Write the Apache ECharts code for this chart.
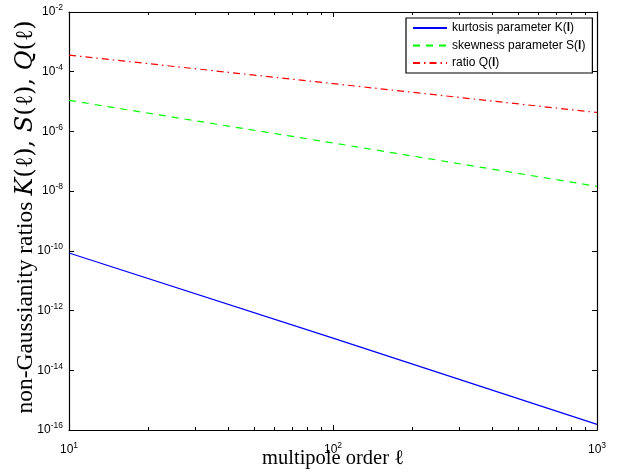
<!DOCTYPE html>
<html>
<head>
<meta charset="utf-8">
<script src="https://cdn.jsdelivr.net/npm/echarts@6/dist/echarts.min.js"></script>
<style>
  html, body { margin: 0; padding: 0; background: #fff; }
  #chart { width: 627px; height: 473px; }
</style>
</head>
<body>
<div id="chart"></div>
<script>
// multipole order ℓ
const ell = [10, 100, 1000];
// kurtosis parameter K(ℓ)
const kurtosis = [8.5e-11, 1.2e-13, 1.55e-16];
// skewness parameter S(ℓ)
const skewness = [1.1e-5, 4.1e-7, 1.45e-8];
// ratio Q(ℓ)
const ratioQ = [3.6e-4, 4.0e-5, 4.3e-6];

// minor tick positions on the ℓ axis
const minorTicksX = [20, 30, 40, 50, 60, 70, 80, 90, 200, 300, 400, 500, 600, 700, 800, 900];

const pairs = (xs, ys) => xs.map((x, i) => [x, ys[i]]);

const sansFont = '"Liberation Sans", Arial, sans-serif';
const serifFont = '"Liberation Serif", "Times New Roman", serif';
const mathFont = '"DejaVu Serif", "Liberation Serif", serif';

const powLabel = v => {
  const e = Math.round(Math.log10(v));
  return '{b|10}{s|' + e + '}';
};
const powRich = {
  b: { fontFamily: sansFont, fontSize: 12, color: '#000' },
  s: { fontFamily: sansFont, fontSize: 8.5, color: '#000', verticalAlign: 'bottom', padding: [0, 0, 8, 0] }
};

const chart = echarts.init(document.getElementById('chart'), null, { renderer: 'canvas' });

const axisLineStyle = { color: '#000', width: 1.2 };

chart.setOption({
  backgroundColor: '#fff',
  animation: false,
  grid: { left: 69, right: 30, top: 12, bottom: 43, containLabel: false, outerBoundsMode: 'none' },
  legend: {
    orient: 'vertical',
    left: 406,
    top: 18,
    padding: [4, 7, 4, 6],
    itemWidth: 34,
    itemHeight: 10,
    itemGap: 5.5,
    backgroundColor: '#fff',
    borderColor: '#000',
    borderWidth: 1.2,
    itemStyle: { opacity: 0 },
    textStyle: {
      fontFamily: sansFont, fontSize: 12, color: '#000',
      rich: { n: { fontFamily: sansFont, fontSize: 12 }, bl: { fontFamily: sansFont, fontSize: 12, fontWeight: 'bold' } }
    },
    formatter: name => {
      const m = name.match(/^(.*)\((l)\)$/);
      return '{n|' + m[1] + '(}{bl|l}{n|)}';
    },
    data: ['kurtosis parameter K(l)', 'skewness parameter S(l)', 'ratio Q(l)']
  },
  xAxis: [
    {
      type: 'log', logBase: 10, min: 10, max: 1000, interval: 1,
      name: 'multipole order ℓ',
      nameLocation: 'middle', nameGap: 18, nameMoveOverlap: false,
      nameTextStyle: { fontFamily: serifFont, fontSize: 20.5, color: '#000' },
      axisLine: { show: true, lineStyle: axisLineStyle },
      axisTick: { show: true, inside: true, length: 5, lineStyle: { color: '#000' } },
      axisLabel: { formatter: powLabel, rich: powRich, margin: 11 },
      splitLine: { show: false }
    },
    {
      type: 'log', logBase: 10, min: 10, max: 1000, interval: 1, position: 'top',
      axisLine: { show: true, lineStyle: axisLineStyle },
      axisTick: { show: true, inside: true, length: 5, lineStyle: { color: '#000' } },
      axisLabel: { show: false },
      splitLine: { show: false }
    }
  ],
  yAxis: [
    {
      type: 'log', logBase: 10, min: 1e-16, max: 1e-2, interval: 2,
      name: '{t|non-Gaussianity ratios }{i|K}{m|(ℓ), }{i|S}{m|(ℓ), }{i|Q}{m|(ℓ)}',
      nameLocation: 'middle', nameGap: 31, nameRotate: 90, nameMoveOverlap: false,
      nameTextStyle: {
        fontFamily: serifFont, fontSize: 23, color: '#000',
        padding: [0, 0, 0, 8],
        rich: {
          t: { fontFamily: serifFont, fontSize: 23.5, color: '#000' },
          i: { fontFamily: mathFont, fontSize: 24, fontStyle: 'italic', color: '#000' },
          m: { fontFamily: mathFont, fontSize: 24, color: '#000' }
        }
      },
      axisLine: { show: true, lineStyle: axisLineStyle },
      axisTick: { show: true, inside: true, length: 5, lineStyle: { color: '#000' } },
      axisLabel: { formatter: powLabel, rich: powRich, margin: 6 },
      splitLine: { show: false }
    },
    {
      type: 'log', logBase: 10, min: 1e-16, max: 1e-2, interval: 2, position: 'right',
      axisLine: { show: true, lineStyle: axisLineStyle },
      axisTick: { show: true, inside: true, length: 5, lineStyle: { color: '#000' } },
      axisLabel: { show: false },
      splitLine: { show: false }
    }
  ],
  series: [
    {
      name: 'kurtosis parameter K(l)', type: 'line', symbol: 'none',
      data: pairs(ell, kurtosis),
      lineStyle: { color: '#0000ff', width: 1.2, type: 'solid' },
      itemStyle: { color: '#0000ff' }
    },
    {
      name: 'skewness parameter S(l)', type: 'line', symbol: 'none',
      data: pairs(ell, skewness),
      lineStyle: { color: '#00ff00', width: 1.2, type: [7, 6] },
      itemStyle: { color: '#00ff00' }
    },
    {
      name: 'ratio Q(l)', type: 'line', symbol: 'none',
      data: pairs(ell, ratioQ),
      lineStyle: { color: '#ff0000', width: 1.2, type: [7, 4, 1.5, 4] },
      itemStyle: { color: '#ff0000' }
    }
  ]
});

// minor ticks along the bottom and top edges, placed through the ℓ axis scale
const yBottom = chart.convertToPixel({ yAxisIndex: 0 }, 1e-16);
const yTop = chart.convertToPixel({ yAxisIndex: 0 }, 1e-2);
const minorMarks = [];
minorTicksX.forEach(v => {
  const x = Math.round(chart.convertToPixel({ xAxisIndex: 0 }, v)) + 0.5;
  minorMarks.push({ type: 'line', shape: { x1: x, y1: yBottom, x2: x, y2: yBottom - 3 }, style: { stroke: '#000', lineWidth: 1 } });
  minorMarks.push({ type: 'line', shape: { x1: x, y1: yTop, x2: x, y2: yTop + 3 }, style: { stroke: '#000', lineWidth: 1 } });
});
chart.setOption({ graphic: minorMarks });
</script>
</body>
</html>
